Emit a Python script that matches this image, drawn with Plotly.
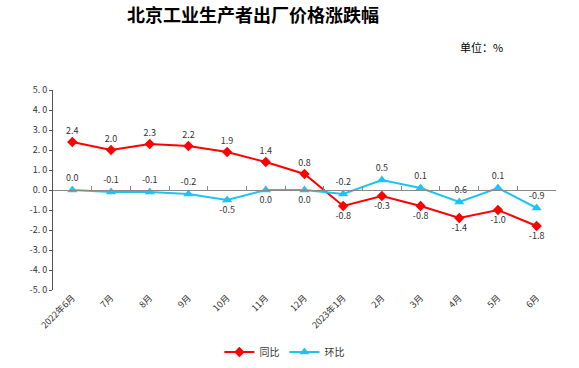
import plotly.graph_objects as go

categories = ["2022年6月", "7月", "8月", "9月", "10月", "11月", "12月",
              "2023年1月", "2月", "3月", "4月", "5月", "6月"]
yoy = [2.4, 2.0, 2.3, 2.2, 1.9, 1.4, 0.8, -0.8, -0.3, -0.8, -1.4, -1.0, -1.8]
mom = [0.0, -0.1, -0.1, -0.2, -0.5, 0.0, 0.0, -0.2, 0.5, 0.1, -0.6, 0.1, -0.9]
yoy_pos = ["top center"] * 7 + ["bottom center"] * 6
mom_pos = ["top center"] * 4 + ["bottom center"] * 3 + ["top center"] * 6
y_ticks = [5, 4, 3, 2, 1, 0, -1, -2, -3, -4, -5]
y_tick_text = [f"{v:.1f}".replace(".", ". ") for v in y_ticks]

RED = "#FF0000"
BLUE = "#1EC4F0"
font_cjk = "Noto Sans CJK SC"

fig = go.Figure()
fig.add_trace(go.Scatter(
    x=categories, y=yoy, name="同比", mode="lines+markers+text",
    line=dict(color=RED, width=2),
    marker=dict(symbol="diamond", size=8, color=RED),
    text=[f"{v:.1f}" for v in yoy], textposition=yoy_pos,
    textfont=dict(size=9, color="#333333", family=font_cjk),
))
fig.add_trace(go.Scatter(
    x=categories, y=mom, name="环比", mode="lines+markers+text",
    line=dict(color=BLUE, width=2),
    marker=dict(symbol="triangle-up", size=9, color=BLUE),
    text=[f"{v:.1f}" for v in mom], textposition=mom_pos,
    textfont=dict(size=9, color="#333333", family=font_cjk),
))

fig.update_layout(
    width=579, height=368,
    margin=dict(l=53, r=23, t=90, b=78, autoexpand=False),
    paper_bgcolor="white", plot_bgcolor="white",
    font=dict(family=font_cjk, size=9, color="#333333"),
    title=dict(text="<b>北京工业生产者出厂价格涨跌幅</b>", x=253 / 579, xanchor="center",
               y=1 - 16 / 368, yanchor="middle",
               font=dict(size=18, color="black", family=font_cjk)),
    showlegend=True,
    legend=dict(orientation="h", x=0.46, xanchor="center", y=-0.31, yanchor="middle",
                font=dict(size=10, color="#333333"), itemwidth=30),
    xaxis=dict(type="category", range=[-0.5, 12.5], showgrid=False, showline=False,
               ticks="", tickangle=-45, tickfont=dict(size=9, color="#333333"),
               zeroline=False, automargin=False),
    xaxis2=dict(type="category", range=[-0.5, 12.5], overlaying="x", anchor="free",
                position=0.5, side="bottom", showline=True, linecolor="#888888",
                linewidth=1, ticks="inside", ticklen=4, tickcolor="#888888",
                tickson="boundaries", showticklabels=False, showgrid=False,
                matches="x", automargin=False),
    yaxis=dict(range=[-5, 5], tickvals=y_ticks, ticktext=y_tick_text, showgrid=False,
               showline=True, linecolor="#555555", linewidth=1, ticks="outside",
               ticklen=3, tickcolor="#555555", zeroline=False, automargin=False,
               tickfont=dict(size=9, color="#333333")),
    annotations=[dict(text="单位：%", x=(481 - 53) / 503, y=(290 - 47) / 200,
                      xref="paper", yref="paper", xanchor="center", yanchor="middle",
                      showarrow=False, font=dict(size=11, color="black"))],
)
# invisible trace to activate the zero-line axis with boundary ticks
fig.add_trace(go.Scatter(x=categories, y=[None] * len(categories), xaxis="x2",
                         showlegend=False, hoverinfo="skip"))

fig.write_html("out.html", config={"displayModeBar": False},
               post_script="document.body.style.margin='0';")
